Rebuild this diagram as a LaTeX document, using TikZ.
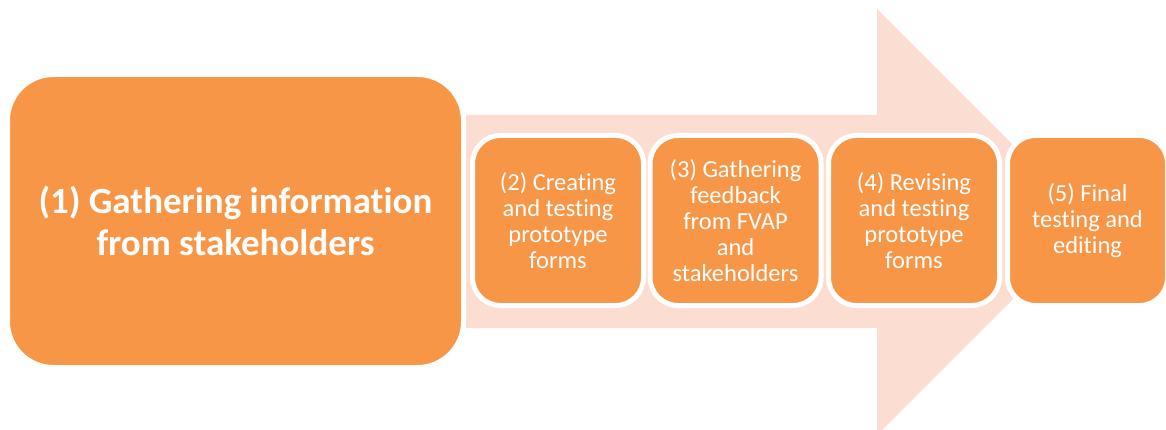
\documentclass[tikz,border=0pt]{standalone}
\usepackage{fontspec}
\setmainfont{Carlito}[RawFeature=-liga]
\definecolor{boxorange}{HTML}{F79646}
\definecolor{arrowpeach}{HTML}{FCDDD2}
\begin{document}
\begin{tikzpicture}[x=1pt,y=-1pt,
  stepbox/.style={draw=white, line width=5pt, fill=boxorange, rounded corners=28pt,
    inner sep=0pt, outer sep=0pt, minimum width=171pt, minimum height=170pt,
    text=white, align=center, font=\fontsize{24.5}{26}\selectfont},
  bigbox/.style={draw=white, line width=5pt, fill=boxorange, rounded corners=46pt,
    inner sep=0pt, outer sep=0pt, minimum width=456pt, minimum height=293pt,
    text=white, align=center, font=\fontsize{37}{42}\selectfont\bfseries}]
\useasboundingbox (0,0) rectangle (1166,430);
% big background arrow
\fill[arrowpeach] (466,115) -- (877,115) -- (877,9) -- (1090,222) -- (877,435)
  -- (877,328) -- (466,328) -- cycle;
\node[bigbox] (s1) at (235.5,221) {(1) Gathering information\\from stakeholders};
\node[stepbox] (s2) at (558,220.5) {(2) Creating\\and testing\\prototype\\forms};
\node[stepbox] (s3) at (735.5,220.5) {(3) Gathering\\feedback\\from FVAP\\and\\stakeholders};
\node[stepbox] (s4) at (914,220.5) {(4) Revising\\and testing\\prototype\\forms};
\node[stepbox, minimum width=160pt] (s5) at (1087.5,220.5) {(5) Final\\testing and\\editing};
\end{tikzpicture}
\end{document}
